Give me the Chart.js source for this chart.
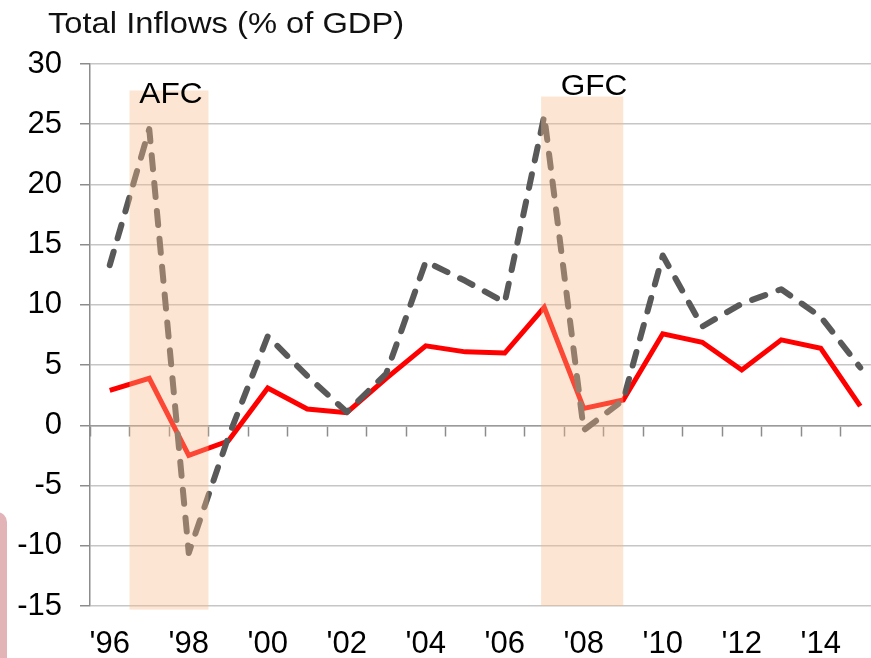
<!DOCTYPE html>
<html>
<head>
<meta charset="utf-8">
<script src="https://cdn.jsdelivr.net/npm/chart.js@4"></script>
<style>
  html, body { margin: 0; padding: 0; background: #ffffff; overflow: hidden; width: 871px; height: 658px; }
  #wrap { position: relative; width: 871px; height: 658px; overflow: hidden; }
  canvas { position: absolute; left: 0; top: 0; }
  #edge { position: absolute; left: -20px; top: 512px; width: 27px; height: 200px; border-radius: 10px; background: #e2b4b8; }
</style>
</head>
<body>
<div id="wrap">
  <canvas id="c" width="900" height="658"></canvas>
  <div id="edge"></div>
</div>
<script>
const years = [1996,1997,1998,1999,2000,2001,2002,2003,2004,2005,2006,2007,2008,2009,2010,2011,2012,2013,2014,2015];
const tickLabels = ["'96","'98","'00","'02","'04","'06","'08","'10","'12","'14"];
const solidSeries = [2.9,3.9,-2.5,-1.3,3.1,1.35,1.05,3.9,6.6,6.1,6.0,9.8,1.4,2.1,7.6,6.9,4.6,7.1,6.4,1.6];
const dashedSeries = [13.3,24.6,-10.6,-1.0,7.4,4.1,1.1,4.3,13.6,12.0,10.2,25.7,-0.4,2.1,14.1,8.2,10.1,11.3,9.0,4.8];
const crisisNames = ["AFC","GFC"];
const crisisStart = [1996.5, 2006.92];
const crisisEnd = [1998.5, 2009.0];
const crisisTop = [27.8, 27.3];
const crisisBottom = [-15.3, -15.0];
const crisisLabelYear = [1997.55, 2008.26];
const crisisLabelValue = [26.8, 27.4];
const yMin = -15, yMax = 30, yStep = 5;
const titleText = "Total Inflows (% of GDP)";

const FONT = "'Liberation Sans', Arial, sans-serif";
const TEXT_STRETCH = 1.09;

const overlayPlugin = {
  id: 'overlay',
  afterDatasetsDraw(chart) {
    const ctx = chart.ctx;
    const xs = chart.scales.x, ys = chart.scales.y;
    ctx.save();
    for (let i = 0; i < crisisNames.length; i++) {
      const x1 = xs.getPixelForValue(crisisStart[i] - years[0]);
      const x2 = xs.getPixelForValue(crisisEnd[i] - years[0]);
      const y1 = ys.getPixelForValue(crisisTop[i]);
      const y2 = ys.getPixelForValue(crisisBottom[i]);
      ctx.fillStyle = 'rgba(250,187,139,0.38)';
      ctx.fillRect(x1, y1, x2 - x1, y2 - y1);
    }
    ctx.fillStyle = '#000000';
    ctx.font = '29px ' + FONT;
    ctx.textAlign = 'center';
    ctx.textBaseline = 'alphabetic';
    for (let i = 0; i < crisisNames.length; i++) {
      const tx = xs.getPixelForValue(crisisLabelYear[i] - years[0]);
      const ty = ys.getPixelForValue(crisisLabelValue[i]);
      ctx.save();
      ctx.translate(tx, ty);
      ctx.scale(TEXT_STRETCH, 1);
      ctx.fillText(crisisNames[i], 0, 0);
      ctx.restore();
    }
    ctx.restore();
  },
  afterDraw(chart) {
    const ctx = chart.ctx;
    ctx.save();
    ctx.fillStyle = '#111111';
    ctx.font = '30px ' + FONT;
    ctx.textAlign = 'left';
    ctx.textBaseline = 'alphabetic';
    ctx.translate(48, 33);
    ctx.scale(TEXT_STRETCH, 1);
    ctx.fillText(titleText, 0, 0);
    ctx.restore();
  }
};

new Chart(document.getElementById('c'), {
  type: 'line',
  data: {
    labels: years.map(String),
    datasets: [
      {
        label: 'Dashed',
        data: dashedSeries,
        borderColor: '#595959',
        borderWidth: 6,
        borderDash: [14, 14],
        borderCapStyle: 'round',
        borderJoinStyle: 'round',
        pointRadius: 0,
        tension: 0,
        fill: false,
        order: 0
      },
      {
        label: 'Solid',
        data: solidSeries,
        borderColor: '#ff0000',
        borderWidth: 5,
        borderJoinStyle: 'miter',
        pointRadius: 0,
        tension: 0,
        fill: false,
        order: 1
      }
    ]
  },
  options: {
    responsive: false,
    animation: false,
    devicePixelRatio: 1,
    layout: { padding: { left: 0, top: 64, right: 20, bottom: 0 } },
    plugins: { legend: { display: false }, tooltip: { enabled: false }, title: { display: false } },
    scales: {
      x: {
        type: 'category',
        position: 'bottom',
        offset: true,
        grid: { display: false, drawTicks: false, offset: true },
        border: { display: false },
        ticks: {
          autoSkip: false,
          maxRotation: 0,
          minRotation: 0,
          padding: 20,
          color: '#000000',
          font: { family: FONT, size: 31 },
          callback: (v, i) => (i % 2 === 0 ? tickLabels[i / 2] : '')
        },
        afterFit: (s) => { s.height = 52; }
      },
      x0: {
        type: 'category',
        axis: 'x',
        labels: years.map(String),
        position: { y: 0 },
        offset: true,
        grid: { display: true, offset: true, drawOnChartArea: false, drawTicks: true, tickLength: 10, tickColor: '#8c8c8c', tickWidth: 1.5 },
        border: { display: true, color: '#9a9a9a', width: 1.5 },
        ticks: { display: false, autoSkip: false }
      },
      y: {
        type: 'linear',
        position: 'left',
        min: yMin,
        max: yMax,
        ticks: {
          stepSize: yStep,
          padding: 18,
          color: '#000000',
          font: { family: FONT, size: 31 }
        },
        grid: { color: '#c6c6c6', lineWidth: 1.5, drawTicks: true, tickLength: 10, tickColor: '#8c8c8c' },
        border: { display: true, color: '#8c8c8c', width: 1.5 },
        afterFit: (s) => { s.width = 90; }
      }
    }
  },
  plugins: [overlayPlugin]
});
</script>
</body>
</html>
